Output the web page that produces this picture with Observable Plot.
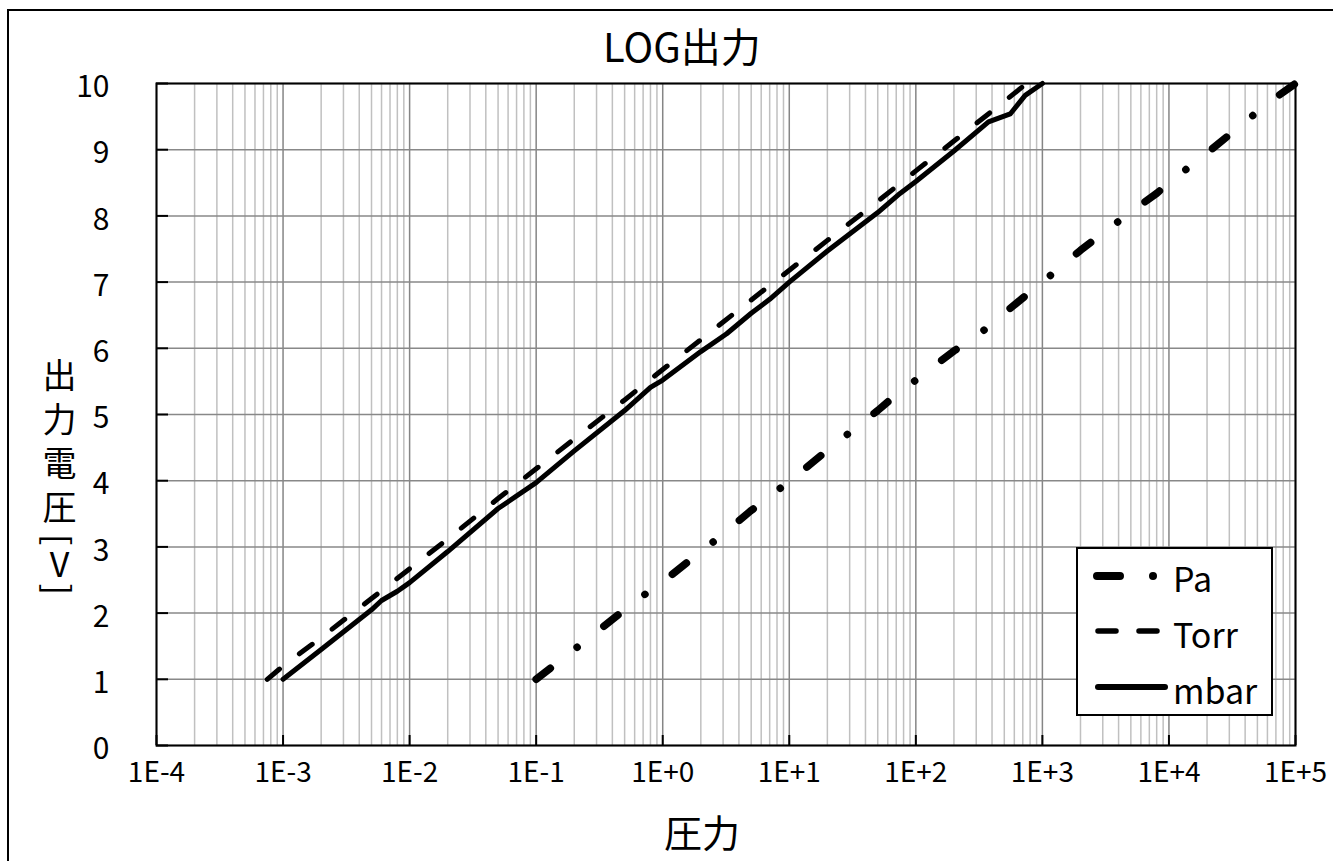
<!DOCTYPE html>
<html>
<head>
<meta charset="utf-8">
<script src="https://cdn.jsdelivr.net/npm/d3@7"></script>
<script src="https://cdn.jsdelivr.net/npm/@observablehq/plot@0.6"></script>
<style>
  html, body { margin: 0; padding: 0; background: #fff; overflow: hidden; }
  #wrap { position: relative; width: 1333px; height: 861px; font-family: "Noto Sans CJK JP", "Noto Sans", sans-serif; color: #000; }
  #frame { position: absolute; left: 7px; top: 9px; width: 1345px; height: 900px; border: 2px solid #000; box-sizing: border-box; }
  #chart { position: absolute; left: 0; top: 0; }
  #title { position: absolute; left: 603px; top: 25px; font-size: 40px; line-height: 1; white-space: nowrap; }
  #xtitle { position: absolute; left: 664px; top: 812px; font-size: 38px; line-height: 1; white-space: nowrap; }
  #ytitle { position: absolute; left: 41px; top: 358px; writing-mode: vertical-rl; text-orientation: upright;
            font-size: 34px; line-height: 36px; letter-spacing: 10px; white-space: nowrap; }
  #ytitle .unit { letter-spacing: 2px; }
  #ytitle .br { text-orientation: sideways; }
  #legend { position: absolute; left: 1076px; top: 547px; }
</style>
</head>
<body>
<div id="wrap">
  <div id="frame"></div>
  <div id="chart"></div>
  <div id="title"></div>
  <div id="xtitle"></div>
  <div id="ytitle"></div>
  <svg id="legend" width="197" height="169"></svg>
</div>
<script>
// ---- text ----
const titleText = "LOG出力";
const xTitleText = "圧力";
const yTitleText = "出力電圧[V]";
const seriesNames = ["Pa", "Torr", "mbar"];

// ---- tick values / labels ----
const xTicks = [1e-4, 1e-3, 1e-2, 1e-1, 1e0, 1e1, 1e2, 1e3, 1e4, 1e5];
const xTickLabels = ["1E-4", "1E-3", "1E-2", "1E-1", "1E+0", "1E+1", "1E+2", "1E+3", "1E+4", "1E+5"];
const yTicks = [0, 1, 2, 3, 4, 5, 6, 7, 8, 9, 10];

// ---- series (pressure, output voltage) ----
const paPressure = [0.1, 0.2, 0.5, 0.78, 1, 2, 2.77, 5, 10, 20, 33, 50, 70, 100, 200, 320, 500, 700, 1000, 1420, 2000, 5000, 8000, 10000, 20000, 40000, 60000, 100000];
const paVoltage  = [1.0, 1.45, 2.05, 2.33, 2.47, 2.93, 3.14, 3.55, 3.99, 4.46, 4.79, 5.06, 5.30, 5.52, 5.96, 6.22, 6.53, 6.76, 7.0, 7.24, 7.48, 8.06, 8.34, 8.5, 8.95, 9.42, 9.7, 10.0];

const torrPressure = [0.00075, 0.001, 0.002, 0.005, 0.01, 0.02, 0.05, 0.1, 0.2, 0.5, 1, 2, 5, 10, 20, 50, 100, 200, 500, 750];
const torrVoltage  = [1.0, 1.2, 1.63, 2.22, 2.67, 3.12, 3.73, 4.18, 4.63, 5.22, 5.68, 6.13, 6.73, 7.18, 7.63, 8.22, 8.68, 9.13, 9.73, 10.0];

const mbarPressure = [0.001, 0.002, 0.005, 0.006, 0.008, 0.01, 0.02, 0.05, 0.1, 0.2, 0.5, 0.8, 1, 2, 3.2, 5, 7, 10, 20, 50, 75, 100, 200, 375, 557, 731, 1000];
const mbarVoltage  = [1.0, 1.45, 2.05, 2.19, 2.33, 2.46, 2.93, 3.58, 3.97, 4.45, 5.06, 5.41, 5.52, 5.95, 6.22, 6.53, 6.74, 7.0, 7.47, 8.05, 8.34, 8.52, 8.98, 9.42, 9.54, 9.82, 10.0];

const FONT = '"Noto Sans CJK JP", "Noto Sans", sans-serif';
const rows = (P, V) => P.map((p, i) => ({p, v: V[i]}));
const paRows = rows(paPressure, paVoltage);
const torrRows = rows(torrPressure, torrVoltage);
const mbarRows = rows(mbarPressure, mbarVoltage);

// minor log grid (2..9 within each decade)
const minorGrid = [];
for (let i = 0; i < xTicks.length - 1; i++) for (let m = 2; m <= 9; m++) minorGrid.push(xTicks[i] * m);

const W = 1333, H = 861, ML = 156, MR = 38, MT = 83, MB = 116;
const frameW = W - ML - MR, frameH = H - MT - MB;

const styles = {
  Pa:   {stroke: "#000", strokeWidth: 7.5, strokeLinecap: "round", strokeLinejoin: "round", strokeDasharray: "18,34,0.01,34"},
  Torr: {stroke: "#000", strokeWidth: 5,   strokeLinecap: "round", strokeLinejoin: "round", strokeDasharray: "16,25"},
  mbar: {stroke: "#000", strokeWidth: 5,   strokeLinecap: "round", strokeLinejoin: "round"}
};

const chart = Plot.plot({
  width: W, height: H,
  marginLeft: ML, marginRight: MR, marginTop: MT, marginBottom: MB,
  x: {type: "log", domain: [xTicks[0], xTicks[xTicks.length - 1]]},
  y: {domain: [yTicks[0], yTicks[yTicks.length - 1]]},
  style: {fontFamily: FONT, background: "transparent", overflow: "visible", color: "#000"},
  marks: [
    Plot.ruleX(minorGrid, {stroke: "#c0c0c0", strokeWidth: 1.5}),
    Plot.ruleX(xTicks, {stroke: "#858585", strokeWidth: 1.5}),
    Plot.ruleY(yTicks, {stroke: "#888888", strokeWidth: 1.5}),
    Plot.line(mbarRows, {x: "p", y: "v", ...styles.mbar}),
    Plot.line(torrRows, {x: "p", y: "v", ...styles.Torr}),
    Plot.line(paRows, {x: "p", y: "v", ...styles.Pa}),
    Plot.tickY(yTicks, {y: d => d, stroke: "#000", strokeWidth: 2, insetRight: frameW - 12}),
    Plot.tickX(xTicks, {x: d => d, stroke: "#000", strokeWidth: 2, insetTop: frameH - 10}),
    Plot.frame({stroke: "#000", strokeWidth: 2}),
    Plot.axisY({ticks: yTicks, tickSize: 0, tickPadding: 47, fontSize: 30, label: null, dy: 4}),
    Plot.axisX({ticks: xTicks, tickSize: 0, tickPadding: 17, fontSize: 28, label: null,
      tickFormat: d => xTickLabels[Math.round(Math.log10(d)) + 4]})
  ]
});
document.getElementById("chart").appendChild(chart);

// titles
document.getElementById("title").textContent = titleText;
document.getElementById("xtitle").textContent = xTitleText;
// vertical y title: CJK upright, brackets turned sideways like the original
const yt = document.getElementById("ytitle");
const bi = yTitleText.indexOf("[");
yt.appendChild(document.createTextNode(yTitleText.slice(0, bi)));
const unit = document.createElement("span");
unit.className = "unit";
for (const ch of yTitleText.slice(bi)) {
  if (ch === "[" || ch === "]") {
    const s = document.createElement("span");
    s.className = "br";
    s.textContent = ch;
    unit.appendChild(s);
  } else unit.appendChild(document.createTextNode(ch));
}
yt.appendChild(unit);

// legend (key box)
const lg = d3.select("#legend");
lg.append("rect").attr("x", 1).attr("y", 1).attr("width", 195).attr("height", 167)
  .attr("fill", "#fff").attr("stroke", "#000").attr("stroke-width", 2);
const keyY = [29, 84, 140], textY = [45, 101, 157];
seriesNames.forEach((name, i) => {
  const st = styles[name];
  const l = lg.append("line").attr("x1", name === "Pa" ? 21 : 22).attr("x2", name === "Pa" ? 78 : (name === "Torr" ? 84 : 89))
    .attr("y1", keyY[i]).attr("y2", keyY[i])
    .attr("stroke", st.stroke).attr("stroke-width", name === "Pa" ? 8 : (name === "Torr" ? 5.5 : 6))
    .attr("stroke-linecap", "round");
  if (name === "Pa") l.attr("stroke-dasharray", "23,33,0.01,40");
  if (name === "Torr") l.attr("stroke-dasharray", "18,23");
  lg.append("text").attr("x", 97).attr("y", textY[i]).attr("font-size", 34)
    .attr("font-family", FONT).text(name);
});
</script>
</body>
</html>
